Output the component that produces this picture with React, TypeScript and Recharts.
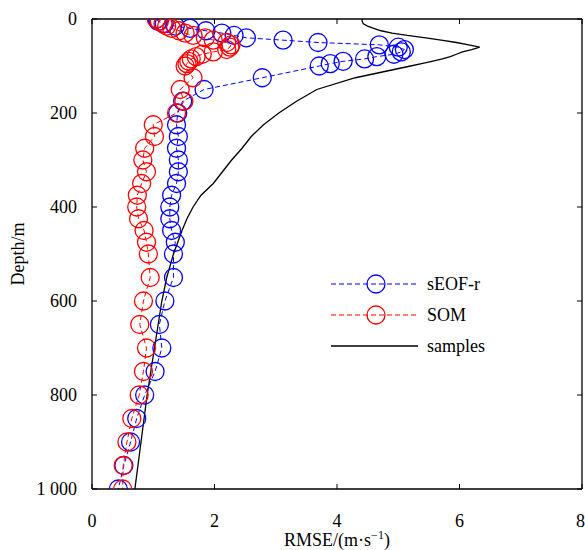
import { LineChart, Line, XAxis, YAxis, Legend } from 'recharts';

const depths = [
  0, 5, 10, 15, 20, 25, 30, 35, 40, 45, 50, 55, 60, 65, 70, 75, 80, 85, 90, 95, 100,
  125, 150, 175, 200, 225, 250, 275, 300, 325, 350, 375, 400, 425, 450, 475, 500,
  550, 600, 650, 700, 750, 800, 850, 900, 950, 1000,
];

const seofR = [
  1.06, 1.08, 1.18, 1.36, 1.6, 1.86, 2.12, 2.32, 2.52, 3.12, 3.69, 4.69, 5.0, 5.1, 5.05, 4.93, 4.65, 4.45, 4.1, 3.89, 3.71,
  2.78, 1.83, 1.48, 1.4, 1.38, 1.41, 1.38, 1.41, 1.41, 1.38, 1.3, 1.27, 1.27, 1.3, 1.36, 1.33,
  1.33, 1.19, 1.1, 1.14, 1.03, 0.86, 0.73, 0.63, 0.52, 0.43,
];

const som = [
  1.05, 1.1, 1.16, 1.22, 1.3, 1.42, 1.52, 1.65, 1.85, 1.98, 2.2, 2.27, 2.25, 2.2, 1.98, 1.8, 1.7, 1.62, 1.58, 1.55, 1.52,
  1.65, 1.44, 1.5, 1.38, 1.0, 1.02, 0.86, 0.83, 0.89, 0.81, 0.74, 0.73, 0.76, 0.85, 0.89, 0.92,
  0.95, 0.84, 0.78, 0.89, 0.84, 0.77, 0.65, 0.57, 0.51, 0.5,
];

const samples = [
  4.41, 4.41, 4.43, 4.5, 4.6, 4.72, 4.9, 5.15, 5.45, 5.7, 5.95, 6.15, 6.33, 6.2, 6.05, 5.95, 5.85, 5.72, 5.55, 5.38, 5.2,
  4.3, 3.67, 3.34, 3.05, 2.8, 2.6, 2.45, 2.28, 2.13, 1.98, 1.78, 1.65, 1.55, 1.47, 1.4, 1.33,
  1.22, 1.14, 1.08, 1.02, 0.96, 0.9, 0.85, 0.8, 0.75, 0.7,
];

const rmseTicks = [0, 2, 4, 6, 8];
const depthTicks = [0, 200, 400, 600, 800, 1000];

const legendItems = [
  { name: 'sEOF-r', color: '#0000ff', dashed: true, marker: true },
  { name: 'SOM', color: '#ff0000', dashed: true, marker: true },
  { name: 'samples', color: '#000000', dashed: false, marker: false },
];

const data = depths.map((depth, i) => ({
  depth,
  seofR: seofR[i],
  som: som[i],
  samples: samples[i],
}));

const FONT = "'Liberation Serif', 'Times New Roman', serif";
const tickStyle = { fill: '#000', fontSize: 18, fontFamily: FONT };
const frame = { stroke: '#000', strokeWidth: 1.3 };

const formatDepth = (v: number) => (v === 1000 ? '1 000' : String(v));

const XTitle = ({ viewBox }: any) => (
  <text
    x={viewBox.x + viewBox.width / 2}
    y={546}
    textAnchor="middle"
    fontSize={18}
    fontFamily={FONT}
    fill="#000"
  >
    RMSE/(m·s
    <tspan dy={-7} fontSize={12}>−1</tspan>
    <tspan dy={7}>)</tspan>
  </text>
);

const YTitle = ({ viewBox }: any) => (
  <text
    transform={`translate(24, ${viewBox.y + viewBox.height / 2}) rotate(-90)`}
    textAnchor="middle"
    fontSize={18}
    fontFamily={FONT}
    fill="#000"
  >
    Depth/m
  </text>
);

const renderLegend = () => (
  <svg width={180} height={92} style={{ fontFamily: FONT }}>
    {legendItems.map((item, i) => {
      const y = 14 + i * 31;
      return (
        <g key={item.name}>
          <line
            x1={6}
            x2={93}
            y1={y}
            y2={y}
            stroke={item.color}
            strokeWidth={item.dashed ? 1 : 1.3}
            strokeDasharray={item.dashed ? '5 3' : undefined}
          />
          {item.marker && (
            <circle cx={51} cy={y} r={9} fill="none" stroke={item.color} strokeWidth={1.3} />
          )}
          <text x={102} y={y + 6} fontSize={18} fontFamily={FONT} fill="#000">
            {item.name}
          </text>
        </g>
      );
    })}
  </svg>
);

export default function App() {
  return (
    <div style={{ position: 'absolute', left: 0, top: 0, background: '#fff', fontFamily: FONT }}>
      <LineChart
        width={585}
        height={550}
        layout="vertical"
        data={data}
        margin={{ top: 18, right: 2, bottom: 0, left: 0 }}
        style={{ fontFamily: FONT }}
      >
        <XAxis
          type="number"
          domain={[0, 8]}
          ticks={rmseTicks}
          allowDataOverflow
          height={61}
          tickSize={-5}
          tickMargin={30}
          tick={tickStyle}
          axisLine={frame}
          tickLine={{ stroke: '#000' }}
          label={<XTitle />}
        />
        <XAxis
          xAxisId="top"
          orientation="top"
          type="number"
          domain={[0, 8]}
          ticks={rmseTicks}
          allowDataOverflow
          height={1}
          tickSize={-5}
          tickFormatter={() => ''}
          axisLine={frame}
          tickLine={{ stroke: '#000' }}
        />
        <YAxis
          dataKey="depth"
          type="number"
          domain={[0, 1000]}
          ticks={depthTicks}
          allowDataOverflow
          width={92}
          tickSize={-5}
          tickMargin={20}
          tickFormatter={formatDepth}
          tick={tickStyle}
          axisLine={frame}
          tickLine={{ stroke: '#000' }}
          label={<YTitle />}
        />
        <YAxis
          yAxisId="right"
          orientation="right"
          dataKey="depth"
          type="number"
          domain={[0, 1000]}
          ticks={depthTicks}
          allowDataOverflow
          width={1}
          tickSize={-5}
          tickFormatter={() => ''}
          axisLine={frame}
          tickLine={{ stroke: '#000' }}
        />
        <Legend
          layout="vertical"
          align="center"
          verticalAlign="middle"
          wrapperStyle={{ left: 325, top: 270, width: 180, height: 92 }}
          content={renderLegend}
        />
        <Line
          dataKey="seofR"
          name="sEOF-r"
          type="linear"
          stroke="#0000ff"
          strokeWidth={1}
          strokeDasharray="5 3"
          dot={{ r: 9, fill: 'none', stroke: '#0000ff', strokeWidth: 1.3, strokeDasharray: 'none' }}
          isAnimationActive={false}
        />
        <Line
          dataKey="som"
          name="SOM"
          type="linear"
          stroke="#ff0000"
          strokeWidth={1}
          strokeDasharray="5 3"
          dot={{ r: 9, fill: 'none', stroke: '#ff0000', strokeWidth: 1.3, strokeDasharray: 'none' }}
          isAnimationActive={false}
        />
        <Line
          dataKey="samples"
          name="samples"
          type="linear"
          stroke="#000000"
          strokeWidth={1.3}
          dot={false}
          isAnimationActive={false}
        />
      </LineChart>
    </div>
  );
}
